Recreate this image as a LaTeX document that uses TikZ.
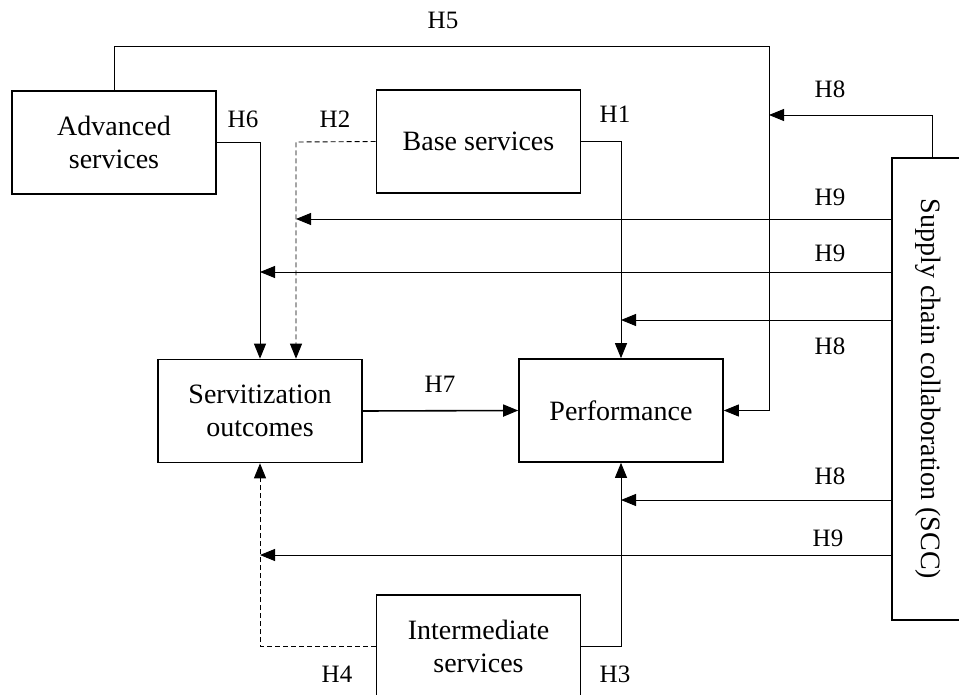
\documentclass[tikz,border=0pt]{standalone}
\usepackage{fontspec}
\setmainfont{Liberation Serif}
\usetikzlibrary{arrows.meta}

\begin{document}
\begin{tikzpicture}[x=1pt,y=-1pt,
	box/.style={draw, line width=1.6pt, minimum width=204, minimum height=103, inner sep=0pt, align=center, font=\fontsize{28}{33}\selectfont},
	lab/.style={font=\fontsize{25}{30}\selectfont, inner sep=0pt},
	link/.style={line width=0.9pt, -{Triangle[length=15pt,width=12pt]}},
	dlink/.style={link, dash pattern=on 5pt off 3pt}]
	\useasboundingbox (0,0) rectangle (959,695);
	\clip (0,0) rectangle (959,695);

	\node[box] (adv) at (114,142.5) {Advanced\\services};
	\node[box] (base) at (478.5,141.5) {Base services};
	\node[box] (serv) at (260,411) {Servitization\\outcomes};
	\node[box] (perf) at (621,410.5) {Performance};
	\node[box] (inter) at (478.5,646.5) {Intermediate\\services};
	\node[box, minimum width=72, minimum height=462] (scc) at (928,389) {};
	\node[rotate=-90, font=\fontsize{28}{33}\selectfont] (scctext) at (scc.center) {Supply chain collaboration (SCC)};

	\coordinate (h2c) at (296,142);
	\coordinate (h5c) at (769,46);

	\draw[link] (adv.north) |- (h5c) |- (perf.east);
	\draw[link] (adv.east) -| (serv.north);
	\draw[dlink] (base.west) -- (h2c) -- (h2c |- serv.north);
	\draw[link] (base.east) -| (perf.north);
	\draw[link] ([xshift=4pt]scc.north) |- (h5c |- 0,115);
	\draw[link] (scc.west |- 0,219) -- (h2c |- 0,219);
	\draw[link] (scc.west |- 0,272) -- (serv.north |- 0,272);
	\draw[link] (scc.west |- 0,320) -- (perf.north |- 0,320);
	\draw[link, line width=1.6pt] (serv.east) -- (perf.west);
	\draw[link] (scc.west |- 0,500) -- (perf.south |- 0,500);
	\draw[link] (scc.west |- 0,555) -- (serv.south |- 0,555);
	\draw[link] (inter.east) -| (perf.south);
	\draw[dlink] (inter.west) -| (serv.south);

	\node[lab] (l5) at (443,20) {H5};
	\node[lab] (l6) at (243,119) {H6};
	\node[lab] (l2) at (335,119) {H2};
	\node[lab] (l1) at (615,114) {H1};
	\node[lab] (l8a) at (830,89) {H8};
	\node[lab] (l9a) at (830,197) {H9};
	\node[lab] (l9b) at (830,253) {H9};
	\node[lab] (l8b) at (830,346) {H8};
	\node[lab] (l7) at (440,384) {H7};
	\node[lab] (l8c) at (830,476) {H8};
	\node[lab] (l9c) at (828,538) {H9};
	\node[lab] (l3) at (615,674) {H3};
	\node[lab] (l4) at (337,674) {H4};
\end{tikzpicture}
\end{document}
